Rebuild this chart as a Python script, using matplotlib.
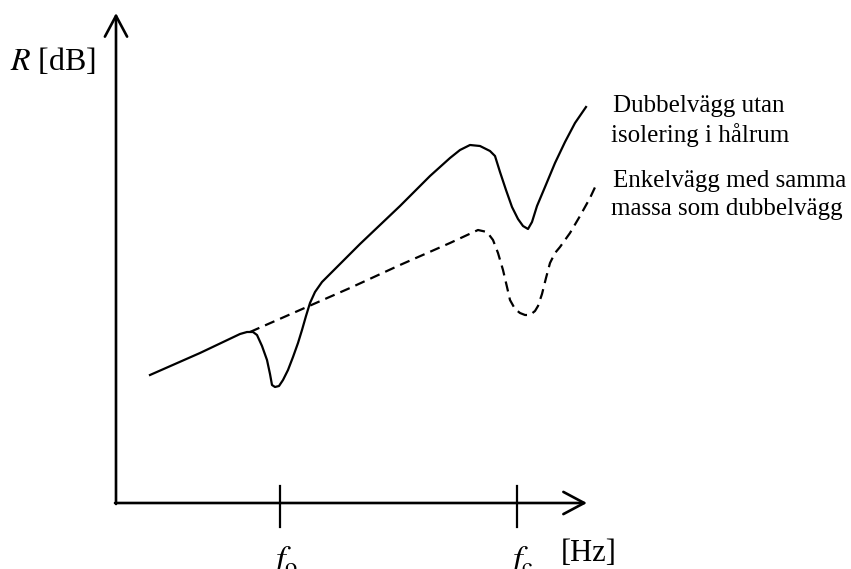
import numpy as np
import matplotlib.pyplot as plt

plt.rcParams['font.family'] = ['Liberation Serif', 'DejaVu Serif']
plt.rcParams['mathtext.fontset'] = 'stix'

# curve values (x = frequency axis, y = R, picture units)
solid_x = [150, 200, 240, 247, 253, 257, 262, 267, 270, 272, 275, 279, 283, 288, 293, 298,
           302, 306, 310, 315, 322, 330, 360, 400, 430, 450, 460, 470, 480, 490, 495,
           500, 506, 512, 518, 523, 528, 532, 537, 545, 555, 565, 575, 586]
solid_y = [375, 353, 334, 332, 332, 335, 346, 360, 374, 385, 387, 386, 380, 370, 357, 343,
           330, 316, 303, 292, 282, 274, 244, 206, 176, 158, 150, 145, 146, 151, 156,
           172, 190, 207, 219, 226, 229, 222, 206, 187, 163, 142, 123, 107]
dashed_x = [250, 300, 350, 400, 450, 478, 487, 493, 498, 503, 507, 510, 515, 520, 525,
            530, 535, 538, 542, 546, 550, 555, 560, 570, 580, 590, 597]
dashed_y = [332, 310, 288, 265, 243, 230, 232, 240, 253, 270, 287, 300, 309, 313, 315,
            315, 311, 306, 294, 278, 263, 253, 247, 233, 216, 198, 183]

tick_pos = [280, 517]
tick_labels = ['$f_\\mathrm{o}$', '$f_\\mathrm{c}$']

fig = plt.figure(figsize=(8.51, 5.69), dpi=100)
ax = fig.add_axes([0, 0, 1, 1])
ax.set_xlim(0, 851)
ax.set_ylim(569, 0)
ax.axis('off')

# axes with arrow heads
arrow = dict(arrowstyle='->,head_length=1.5,head_width=0.8', lw=1.9, color='black',
             shrinkA=0, shrinkB=0)
ax.annotate('', xy=(116, 13), xytext=(116, 504), arrowprops=arrow)
ax.annotate('', xy=(587, 503), xytext=(115, 503), arrowprops=arrow)

for xp, lab in zip(tick_pos, tick_labels):
    ax.plot([xp, xp], [486, 527], color='black', lw=1.6)
    ax.text(xp - 10, 544, lab, fontsize=25, ha='left', va='top')

ax.text(561, 561, '[Hz]', fontsize=22, ha='left', va='baseline')
ax.text(10, 70, '$R$ [dB]', fontsize=23, ha='left', va='baseline')

ax.plot(solid_x, solid_y, color='black', lw=1.6, solid_joinstyle='round')
ax.plot(dashed_x, dashed_y, color='black', lw=1.6, linestyle=(0, (4.6, 2.8)))

ax.text(613, 112, 'Dubbelvägg utan', fontsize=18, va='baseline')
ax.text(611, 142, 'isolering i hålrum', fontsize=18, va='baseline')
ax.text(613, 187, 'Enkelvägg med samma', fontsize=18, va='baseline')
ax.text(611, 215, 'massa som dubbelvägg', fontsize=18, va='baseline')

fig.savefig('out.png', dpi=100)
